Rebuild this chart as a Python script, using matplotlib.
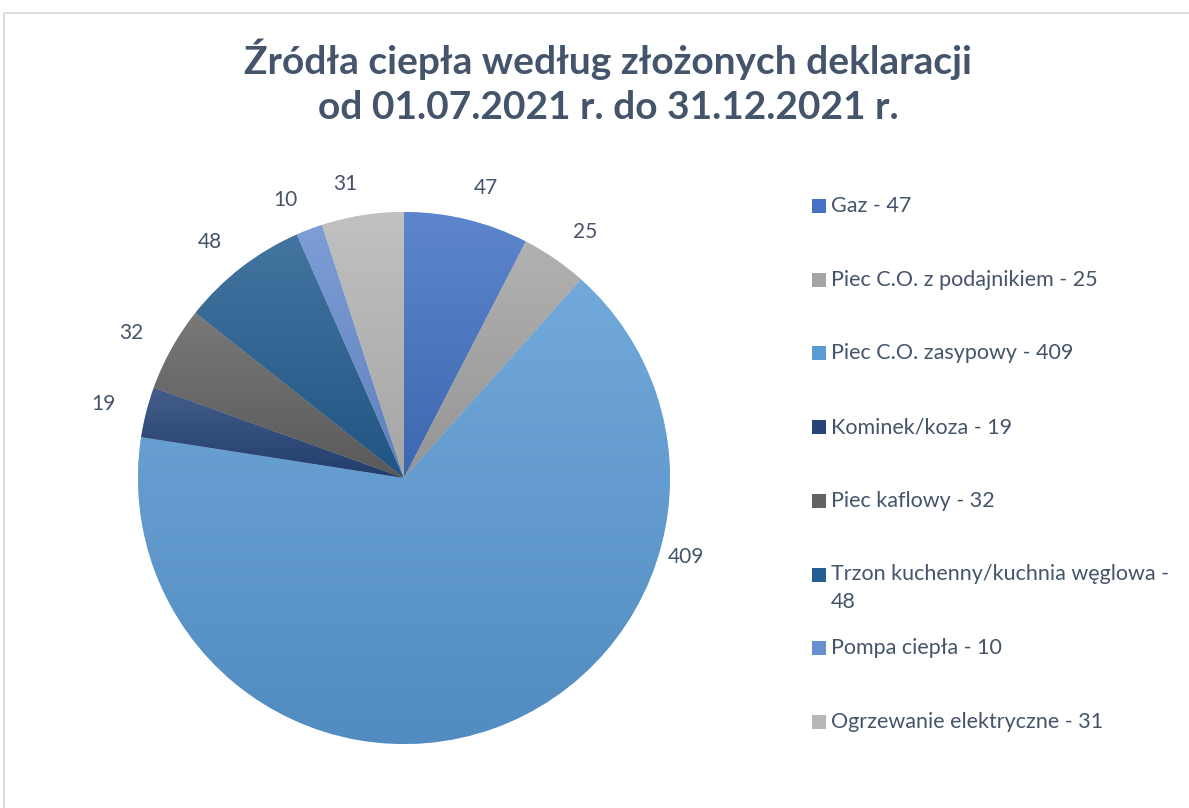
import matplotlib
matplotlib.use("Agg")
import matplotlib.pyplot as plt
import matplotlib.colors as mcolors
from matplotlib.patches import Rectangle
import numpy as np

plt.rcParams['font.family'] = ['Lato', 'DejaVu Sans']

title = "Źródła ciepła według złożonych deklaracji\nod 01.07.2021 r. do 31.12.2021 r."
categories = ["Gaz", "Piec C.O. z podajnikiem", "Piec C.O. zasypowy", "Kominek/koza",
              "Piec kaflowy", "Trzon kuchenny/kuchnia węglowa", "Pompa ciepła",
              "Ogrzewanie elektryczne"]
values = [47, 25, 409, 19, 32, 48, 10, 31]
colors = ["#4472C4", "#A5A5A5", "#5B9BD5", "#264478", "#636363", "#255E91", "#698ED0", "#B7B7B7"]
text_col = "#44546A"

W, H = 1189, 808
fig = plt.figure(figsize=(W / 100, H / 100), dpi=100)

# light frame of the chart area
fig.add_artist(Rectangle((4 / W, -0.1), 1.2, 1 - 13 / H + 0.1, transform=fig.transFigure,
                         fill=False, edgecolor="#D9D9D9", linewidth=1.2))

# title, one text per line so the line gap matches
for k, line in enumerate(title.split("\n")):
    fig.text(608 / W, 1 - (74 + 45 * k) / H, line, ha="center", va="baseline", fontsize=28,
             fontweight="bold", color=text_col)

# pie: centre (404, 478), radius 266 px
cx, cy, r = 404, 478, 266
ax = fig.add_axes([(cx - r) / W, (H - cy - r) / H, 2 * r / W, 2 * r / H])
wedges, texts = ax.pie(values, colors=colors, startangle=90, counterclock=False,
                       labels=[str(v) for v in values], labeldistance=1.12,
                       wedgeprops=dict(edgecolor="white", linewidth=0.3),
                       textprops=dict(fontsize=15, color=text_col))

# the big slice's label sits on the right side, as in the original (best fit)
ang = np.deg2rad(105.6)
texts[2].set_position((1.1 * np.sin(ang), 1.1 * np.cos(ang)))
texts[2].set_ha("center")
texts[2].set_va("center")

# vertical gradient in every slice: lighter at its top, darker at its bottom
for w, c in zip(wedges, colors):
    rgb = np.array(mcolors.to_rgb(c))
    top = rgb + (1 - rgb) * 0.14
    bot = rgb * 0.9
    t = np.linspace(0, 1, 256)[:, None]
    grad = (top[None, :] * (1 - t) + bot[None, :] * t)[:, None, :]
    ext = w.get_path().get_extents()
    im = ax.imshow(grad, extent=[ext.x0, ext.x1, ext.y0, ext.y1], aspect="auto",
                   zorder=w.get_zorder() + 0.1, interpolation="bilinear")
    im.set_clip_path(w)

ax.set_xlim(-1, 1)
ax.set_ylim(-1, 1)
ax.set_aspect("equal")
ax.axis("off")

# legend on the right
legend_labels = [f"{c} - {v}" for c, v in zip(categories, values)]
legend_labels[5] = f"{categories[5]} -\n{values[5]}"
y0, step = 206, 73.7
for i, (lab, c) in enumerate(zip(legend_labels, colors)):
    yc = y0 + i * step
    fig.add_artist(Rectangle((812 / W, 1 - (yc + 7) / H), 14 / W, 14 / H,
                             transform=fig.transFigure, facecolor=c, edgecolor="none"))
    for k, part in enumerate(lab.split("\n")):
        fig.text(831 / W, 1 - (yc + 27 * k) / H, part, ha="left", va="center",
                 fontsize=15.5, color=text_col)

fig.savefig("out.png", dpi=100)
